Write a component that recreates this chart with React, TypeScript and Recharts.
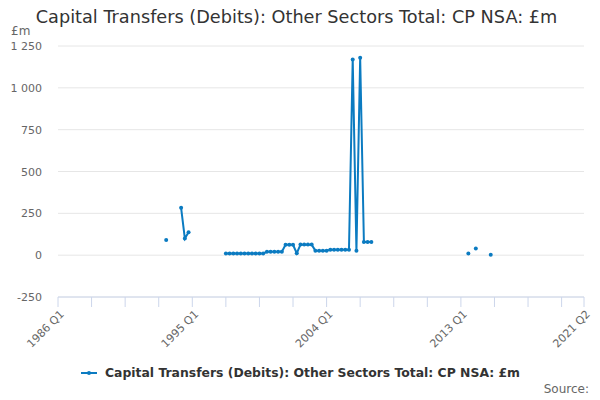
import React from 'react'
import { LineChart, Line, XAxis, YAxis, CartesianGrid } from 'recharts'

const SERIES_NAME = 'Capital Transfers (Debits): Other Sectors Total: CP NSA: £m'
const LINE_COLOR = '#0b7bc1'
const FONT = '"DejaVu Sans", Verdana, sans-serif'

// every quarter from 1986 Q1 to 2021 Q2 (category axis)
const quarters: string[] = []
for (let y = 1986; y <= 2021; y++) {
  for (let q = 1; q <= 4; q++) {
    if (y === 2021 && q > 2) break
    quarters.push(`${y} Q${q}`)
  }
}

const obsQuarters = [
  '1993 Q2',
  '1994 Q2', '1994 Q3', '1994 Q4',
  '1997 Q2', '1997 Q3', '1997 Q4', '1998 Q1', '1998 Q2', '1998 Q3', '1998 Q4',
  '1999 Q1', '1999 Q2', '1999 Q3', '1999 Q4',
  '2000 Q1', '2000 Q2', '2000 Q3', '2000 Q4', '2001 Q1',
  '2001 Q2', '2001 Q3', '2001 Q4', '2002 Q1',
  '2002 Q2', '2002 Q3', '2002 Q4', '2003 Q1',
  '2003 Q2', '2003 Q3', '2003 Q4', '2004 Q1',
  '2004 Q2', '2004 Q3', '2004 Q4', '2005 Q1', '2005 Q2', '2005 Q3',
  '2005 Q4', '2006 Q1', '2006 Q2', '2006 Q3', '2006 Q4', '2007 Q1',
  '2013 Q3', '2014 Q1', '2015 Q1'
]
const obsValues = [
  90,
  283, 100, 137,
  10, 10, 10, 10, 10, 10, 10,
  10, 10, 10, 10,
  20, 20, 20, 20, 20,
  62, 62, 62, 12,
  63, 63, 63, 63,
  27, 27, 27, 27,
  33, 33, 33, 33, 33, 33,
  1170, 26, 1180, 78, 78, 78,
  10, 40, 2
]

const yTicks = [-250, 0, 250, 500, 750, 1000, 1250]
const xTickIdx = [0, 9, 18, 27, 36, 45, 54, 63, 72, 81, 90, 99, 108, 117, 126, 135, 141]
const xLabelIdx = [0, 36, 72, 108, 141]

const data = quarters.map((q, idx) => {
  const k = obsQuarters.indexOf(q)
  return { idx, q, value: k >= 0 ? obsValues[k] : null }
})

const fmt = (v: number) => {
  const s = Math.abs(v).toString().replace(/\B(?=(\d{3})+(?!\d))/g, ' ')
  return v < 0 ? '-' + s : s
}

const YTick = ({ y, payload }: any) => (
  <text x={42} y={y} dy={4} textAnchor="end" fill="#666" fontSize={11} fontFamily={FONT}>
    {fmt(payload.value)}
  </text>
)

const XTick = ({ x, y, payload }: any) => {
  if (!xLabelIdx.includes(payload.value)) return null
  return (
    <text
      transform={`translate(${x + 4},${y + 3}) rotate(-45)`}
      textAnchor="end"
      dy={4}
      fill="#666"
      fontSize={11}
      fontFamily={FONT}
    >
      {quarters[payload.value]}
    </text>
  )
}

export default function App() {
  return (
    <div style={{ position: 'fixed', left: 0, top: 0, width: 600, height: 400, background: '#fff', fontFamily: FONT }}>
      <div style={{ position: 'absolute', left: 0, top: 7, width: 593, textAlign: 'center', fontSize: 17.7, color: '#333' }}>
        Capital Transfers (Debits): Other Sectors Total: CP NSA: £m
      </div>
      <div style={{ position: 'absolute', left: 11, top: 24, fontSize: 12, color: '#666' }}>£m</div>
      <LineChart width={600} height={400} data={data} margin={{ top: 46, right: 16, bottom: 0, left: 8 }}>
        <CartesianGrid vertical={false} stroke="#e6e6e6" />
        <XAxis
          dataKey="idx"
          type="number"
          domain={[0, 141]}
          ticks={xTickIdx}
          interval={0}
          height={103}
          tickSize={10}
          stroke="#ccd6eb"
          tickLine={{ stroke: '#ccd6eb' }}
          axisLine={{ stroke: '#ccd6eb' }}
          tick={<XTick />}
        />
        <YAxis
          domain={[-250, 1250]}
          ticks={yTicks}
          width={50}
          axisLine={false}
          tickLine={false}
          tick={<YTick />}
        />
        <Line
          dataKey="value"
          type="linear"
          stroke={LINE_COLOR}
          strokeWidth={2}
          dot={{ r: 2, fill: LINE_COLOR, stroke: LINE_COLOR, strokeWidth: 0 }}
          isAnimationActive={false}
        />
      </LineChart>
      <div style={{ position: 'absolute', left: 0, top: 364, width: 600, display: 'flex', justifyContent: 'center', alignItems: 'center' }}>
        <svg width={21} height={16} style={{ marginRight: 4 }}>
          <line x1={1} y1={9} x2={17} y2={9} stroke={LINE_COLOR} strokeWidth={2} />
          <circle cx={9} cy={9} r={2} fill={LINE_COLOR} />
        </svg>
        <span style={{ fontSize: 12.4, fontWeight: 'bold', color: '#333' }}>{SERIES_NAME}</span>
      </div>
      <div style={{ position: 'absolute', right: 11, top: 382, fontSize: 12, color: '#666' }}>Source:</div>
    </div>
  )
}
